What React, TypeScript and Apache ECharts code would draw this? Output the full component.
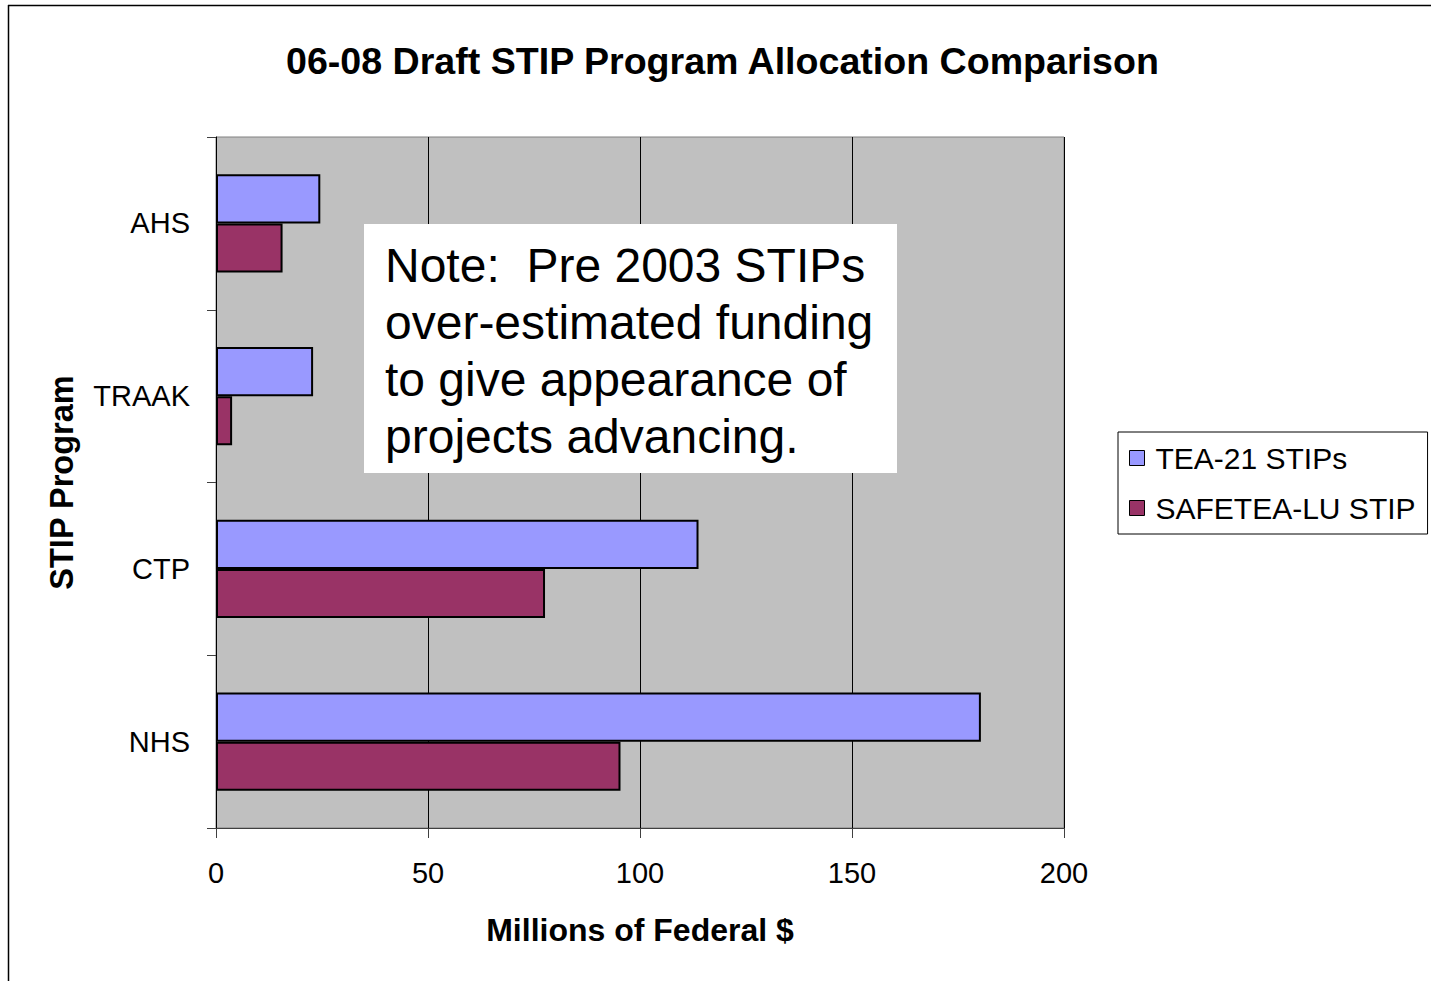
import React, { useEffect, useRef } from "react";
import * as echarts from "echarts";

const categories = ["NHS", "CTP", "TRAAK", "AHS"];
const tea21Values = [180.4, 113.8, 22.9, 24.6];
const safeteaValues = [95.4, 77.6, 3.8, 15.7];
const seriesNames = ["TEA-21 STIPs", "SAFETEA-LU STIP"];
const xTicks = [0, 50, 100, 150, 200];
const titleText = "06-08 Draft STIP Program Allocation Comparison";
const noteLines = [
  "Note:  Pre 2003 STIPs",
  "over-estimated funding",
  "to give appearance of",
  "projects advancing.",
];

const FONT = "'Liberation Sans', Arial, sans-serif";

export default function App() {
  const ref = useRef<HTMLDivElement>(null);
  useEffect(() => {
    if (!ref.current) return;
    const chart = echarts.init(ref.current, null, { renderer: "svg" });
    chart.setOption({
      animation: false,
      backgroundColor: "#ffffff",
      textStyle: { fontFamily: FONT, color: "#000" },
      title: {
        text: titleText,
        left: 286,
        top: 42,
        padding: 0,
        textStyle: { fontFamily: FONT, fontSize: 37.6, fontWeight: "bold", color: "#000" },
      },
      legend: {
        orient: "vertical",
        left: 1118,
        top: 432,
        padding: [11, 12, 11, 11],
        itemGap: 20,
        itemWidth: 15,
        itemHeight: 15,
        icon: "rect",
        borderColor: "#000",
        borderWidth: 1,
        backgroundColor: "#fff",
        data: seriesNames,
        itemStyle: { borderColor: "#000", borderWidth: 1 },
        textStyle: { fontFamily: FONT, fontSize: 30, color: "#000", padding: [0, 0, 0, 6] },
      },
      grid: {
        left: 216,
        top: 137,
        right: 367,
        bottom: 153,
        show: true,
        backgroundColor: "#C0C0C0",
        borderColor: "#808080",
        borderWidth: 1,
        containLabel: false,
      },
      xAxis: {
        type: "value",
        min: xTicks[0],
        max: xTicks[xTicks.length - 1],
        interval: 50,
        name: "Millions of Federal $",
        nameLocation: "middle",
        nameGap: 86,
        nameTextStyle: { fontFamily: FONT, fontSize: 32, fontWeight: "bold", color: "#000" },
        axisLine: { show: true, lineStyle: { color: "#404040", width: 1 } },
        axisTick: { show: true, length: 10, lineStyle: { color: "#404040" } },
        axisLabel: { fontFamily: FONT, fontSize: 29, color: "#000", margin: 30 },
        splitLine: { show: true, lineStyle: { color: "#000", width: 1 } },
      },
      yAxis: {
        type: "category",
        data: categories,
        name: "STIP Program",
        nameLocation: "middle",
        nameGap: 138,
        nameTextStyle: { fontFamily: FONT, fontSize: 32.5, fontWeight: "bold", color: "#000" },
        axisLine: { show: true, lineStyle: { color: "#000", width: 1 } },
        axisTick: { show: true, length: 9, lineStyle: { color: "#404040" } },
        axisLabel: { fontFamily: FONT, fontSize: 29, color: "#000", margin: 26 },
        splitLine: { show: false },
      },
      series: [
        {
          name: seriesNames[0],
          type: "bar",
          data: tea21Values,
          barGap: "0%",
          barCategoryGap: "43%",
          itemStyle: { color: "#9999FF", borderColor: "#000", borderWidth: 2 },
        },
        {
          name: seriesNames[1],
          type: "bar",
          data: safeteaValues,
          barGap: "0%",
          barCategoryGap: "43%",
          itemStyle: { color: "#993366", borderColor: "#000", borderWidth: 2 },
        },
      ],
      graphic: [
        {
          type: "line",
          shape: { x1: 8, y1: 5.5, x2: 1431, y2: 5.5 },
          style: { stroke: "#000", lineWidth: 1.5 },
          silent: true,
        },
        {
          type: "line",
          shape: { x1: 8.5, y1: 5, x2: 8.5, y2: 981 },
          style: { stroke: "#000", lineWidth: 1.5 },
          silent: true,
        },
        {
          type: "rect",
          z: 1000,
          zlevel: 0,
          shape: { x: 364, y: 224, width: 533, height: 249 },
          style: { fill: "#fff", stroke: "none" },
        },
        {
          type: "text",
          z: 1001,
          zlevel: 0,
          x: 385,
          y: 237,
          style: {
            text: noteLines.join("\n"),
            font: `48px ${FONT}`,
            fill: "#000",
            lineHeight: 57,
          },
        },
      ],
    });
    return () => chart.dispose();
  }, []);
  return (
    <div
      ref={ref}
      style={{ position: "fixed", left: 0, top: 0, width: 1431, height: 981 }}
    />
  );
}
